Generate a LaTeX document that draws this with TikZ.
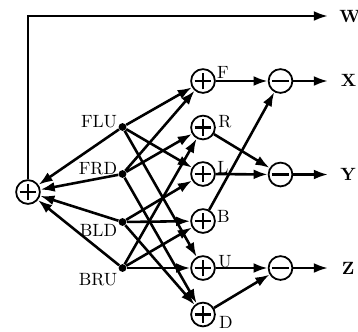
\documentclass[tikz,border=0pt]{standalone}
\usetikzlibrary{arrows.meta}
\tikzset{
  wire/.style={line width=1.45pt},
  conn/.style={wire, -{Latex[length=8pt,width=5.6pt]}},
  junction/.style={circle, fill, inner sep=0pt, minimum size=4.4pt},
  ring/.style={circle, draw, line width=1pt, inner sep=0pt, minimum size=13.4pt},
  sumnode/.style={ring, path picture={
      \draw[line width=1.6pt]
        ([xshift=-4.7pt]path picture bounding box.center) -- ([xshift=4.7pt]path picture bounding box.center)
        ([yshift=-4.7pt]path picture bounding box.center) -- ([yshift=4.7pt]path picture bounding box.center);}},
  diffnode/.style={ring, path picture={
      \draw[line width=1.6pt]
        ([xshift=-4.9pt]path picture bounding box.center) -- ([xshift=4.9pt]path picture bounding box.center);}},
  lbl/.style={inner sep=0pt},
  outlbl/.style={inner sep=0pt, font=\bfseries}
}
\begin{document}
\begin{tikzpicture}[x=0.5634pt, y=-0.5634pt]
  \useasboundingbox (0,0) rectangle (358,331);

  % total sum on the left
  \node[sumnode] (S) at (28,192) {};

  % junction points of the four corner signals
  \node[junction] (FLU) at (122.5,127) {};
  \node[junction] (FRD) at (122.5,174) {};
  \node[junction] (BLD) at (122.5,222) {};
  \node[junction] (BRU) at (122.5,268) {};
  \node[lbl] (tFLU) at (99,121.5) {FLU};
  \node[lbl] (tFRD) at (98,168.5) {FRD};
  \node[lbl] (tBLD) at (98.5,230) {BLD};
  \node[lbl] (tBRU) at (98,279.5) {BRU};

  % face sums
  \node[sumnode] (F) at (203,81) {};
  \node[sumnode] (R) at (203,127.5) {};
  \node[sumnode] (L) at (203,174) {};
  \node[sumnode] (B) at (203,221) {};
  \node[sumnode] (U) at (203,268) {};
  \node[sumnode] (D) at (203,314.5) {};
  \node[lbl] (tF) at (223,72) {F};
  \node[lbl] (tR) at (225,122) {R};
  \node[lbl] (tL) at (223,167.5) {L};
  \node[lbl] (tB) at (223.5,216.5) {B};
  \node[lbl] (tU) at (225,261.5) {U};
  \node[lbl] (tD) at (226,322.5) {D};

  % differences
  \node[diffnode] (mX) at (280.5,81) {};
  \node[diffnode] (mY) at (280.5,174.5) {};
  \node[diffnode] (mZ) at (280.5,268) {};

  % outputs
  \coordinate (eW) at (328,16);
  \coordinate (eX) at (328,81);
  \coordinate (eY) at (328,174.5);
  \coordinate (eZ) at (328,268);
  \node[outlbl] (W) at (350,16.5) {W};
  \node[outlbl] (X) at (348.5,80.5) {X};
  \node[outlbl] (Y) at (348,174.5) {Y};
  \node[outlbl] (Z) at (348,268) {Z};

  % corners into the total sum
  \foreach \c in {FLU,FRD,BLD,BRU} \draw[conn] (\c) -- (S);
  \draw[conn] (S.north) |- (eW);

  % corners into face sums
  \foreach \f in {F,L,U} \draw[conn] (FLU) -- (\f);
  \foreach \f in {F,R,D} \draw[conn] (FRD) -- (\f);
  \foreach \f in {L,B,D} \draw[conn] (BLD) -- (\f);
  \foreach \f in {R,B,U} \draw[conn] (BRU) -- (\f);

  % face sums into differences
  \draw[conn] (F) -- (mX);
  \draw[conn] (B) -- (mX);
  \draw[conn] (R) -- (mY);
  \draw[conn] (L) -- (mY);
  \draw[conn] (U) -- (mZ);
  \draw[conn] (D) -- (mZ);

  % differences to outputs
  \draw[conn] (mX) -- (eX);
  \draw[conn] (mY) -- (eY);
  \draw[conn] (mZ) -- (eZ);
\end{tikzpicture}
\end{document}
